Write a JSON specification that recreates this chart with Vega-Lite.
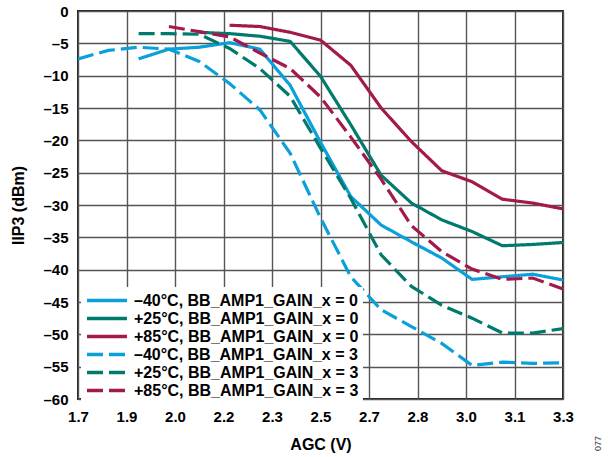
{
  "$schema": "https://vega.github.io/schema/vega-lite/v6.json",
  "autosize": {"type": "none"},
  "padding": {"left": 78, "top": 11, "right": 45, "bottom": 58},
  "width": 485,
  "height": 388,
  "title": {"text": "077", "orient": "bottom", "anchor": "end", "fontSize": 9, "fontWeight": "normal", "font": "Liberation Sans", "color": "#333", "angle": -90, "offset": 10, "dx": 26, "dy": 21},
  "config": {
    "font": "Liberation Sans",
    "view": {"stroke": "#222", "strokeWidth": 2},
    "axis": {"labelFont": "Liberation Sans", "labelFontWeight": "bold", "labelFontSize": 15, "labelColor": "#000", "titleFont": "Liberation Sans", "titleFontWeight": "bold", "titleFontSize": 16, "titleColor": "#000", "gridColor": "#555", "gridWidth": 1.4, "gridOpacity": 1, "ticks": false, "domain": false}
  },
  "data": {"values": [
    {"series": "–40°C, BB_AMP1_GAIN_x = 0", "agc": 1.9, "iip3": -7.4},
    {"series": "–40°C, BB_AMP1_GAIN_x = 0", "agc": 2.0, "iip3": -5.9},
    {"series": "–40°C, BB_AMP1_GAIN_x = 0", "agc": 2.1, "iip3": -5.6},
    {"series": "–40°C, BB_AMP1_GAIN_x = 0", "agc": 2.2, "iip3": -4.9},
    {"series": "–40°C, BB_AMP1_GAIN_x = 0", "agc": 2.3, "iip3": -5.9},
    {"series": "–40°C, BB_AMP1_GAIN_x = 0", "agc": 2.4, "iip3": -11.5},
    {"series": "–40°C, BB_AMP1_GAIN_x = 0", "agc": 2.5, "iip3": -20.3},
    {"series": "–40°C, BB_AMP1_GAIN_x = 0", "agc": 2.6, "iip3": -28.7},
    {"series": "–40°C, BB_AMP1_GAIN_x = 0", "agc": 2.7, "iip3": -33.1},
    {"series": "–40°C, BB_AMP1_GAIN_x = 0", "agc": 2.8, "iip3": -35.7},
    {"series": "–40°C, BB_AMP1_GAIN_x = 0", "agc": 2.9, "iip3": -38.2},
    {"series": "–40°C, BB_AMP1_GAIN_x = 0", "agc": 3.0, "iip3": -41.5},
    {"series": "–40°C, BB_AMP1_GAIN_x = 0", "agc": 3.1, "iip3": -41.1},
    {"series": "–40°C, BB_AMP1_GAIN_x = 0", "agc": 3.2, "iip3": -40.7},
    {"series": "–40°C, BB_AMP1_GAIN_x = 0", "agc": 3.3, "iip3": -41.6},

    {"series": "+25°C, BB_AMP1_GAIN_x = 0", "agc": 2.1, "iip3": -3.3},
    {"series": "+25°C, BB_AMP1_GAIN_x = 0", "agc": 2.2, "iip3": -3.5},
    {"series": "+25°C, BB_AMP1_GAIN_x = 0", "agc": 2.3, "iip3": -3.9},
    {"series": "+25°C, BB_AMP1_GAIN_x = 0", "agc": 2.4, "iip3": -4.7},
    {"series": "+25°C, BB_AMP1_GAIN_x = 0", "agc": 2.5, "iip3": -10.1},
    {"series": "+25°C, BB_AMP1_GAIN_x = 0", "agc": 2.6, "iip3": -17.6},
    {"series": "+25°C, BB_AMP1_GAIN_x = 0", "agc": 2.7, "iip3": -25.4},
    {"series": "+25°C, BB_AMP1_GAIN_x = 0", "agc": 2.8, "iip3": -29.7},
    {"series": "+25°C, BB_AMP1_GAIN_x = 0", "agc": 2.9, "iip3": -32.3},
    {"series": "+25°C, BB_AMP1_GAIN_x = 0", "agc": 3.0, "iip3": -34.1},
    {"series": "+25°C, BB_AMP1_GAIN_x = 0", "agc": 3.1, "iip3": -36.3},
    {"series": "+25°C, BB_AMP1_GAIN_x = 0", "agc": 3.2, "iip3": -36.1},
    {"series": "+25°C, BB_AMP1_GAIN_x = 0", "agc": 3.3, "iip3": -35.8},

    {"series": "+85°C, BB_AMP1_GAIN_x = 0", "agc": 2.2, "iip3": -2.2},
    {"series": "+85°C, BB_AMP1_GAIN_x = 0", "agc": 2.3, "iip3": -2.4},
    {"series": "+85°C, BB_AMP1_GAIN_x = 0", "agc": 2.4, "iip3": -3.3},
    {"series": "+85°C, BB_AMP1_GAIN_x = 0", "agc": 2.5, "iip3": -4.5},
    {"series": "+85°C, BB_AMP1_GAIN_x = 0", "agc": 2.6, "iip3": -8.4},
    {"series": "+85°C, BB_AMP1_GAIN_x = 0", "agc": 2.7, "iip3": -15.0},
    {"series": "+85°C, BB_AMP1_GAIN_x = 0", "agc": 2.8, "iip3": -20.2},
    {"series": "+85°C, BB_AMP1_GAIN_x = 0", "agc": 2.9, "iip3": -24.7},
    {"series": "+85°C, BB_AMP1_GAIN_x = 0", "agc": 3.0, "iip3": -26.4},
    {"series": "+85°C, BB_AMP1_GAIN_x = 0", "agc": 3.1, "iip3": -29.1},
    {"series": "+85°C, BB_AMP1_GAIN_x = 0", "agc": 3.2, "iip3": -29.7},
    {"series": "+85°C, BB_AMP1_GAIN_x = 0", "agc": 3.3, "iip3": -30.6},

    {"series": "–40°C, BB_AMP1_GAIN_x = 3", "agc": 1.7, "iip3": -7.4},
    {"series": "–40°C, BB_AMP1_GAIN_x = 3", "agc": 1.8, "iip3": -6.1},
    {"series": "–40°C, BB_AMP1_GAIN_x = 3", "agc": 1.9, "iip3": -5.6},
    {"series": "–40°C, BB_AMP1_GAIN_x = 3", "agc": 2.0, "iip3": -5.9},
    {"series": "–40°C, BB_AMP1_GAIN_x = 3", "agc": 2.1, "iip3": -7.8},
    {"series": "–40°C, BB_AMP1_GAIN_x = 3", "agc": 2.2, "iip3": -11.2},
    {"series": "–40°C, BB_AMP1_GAIN_x = 3", "agc": 2.3, "iip3": -15.3},
    {"series": "–40°C, BB_AMP1_GAIN_x = 3", "agc": 2.4, "iip3": -22.0},
    {"series": "–40°C, BB_AMP1_GAIN_x = 3", "agc": 2.5, "iip3": -32.0},
    {"series": "–40°C, BB_AMP1_GAIN_x = 3", "agc": 2.6, "iip3": -41.1},
    {"series": "–40°C, BB_AMP1_GAIN_x = 3", "agc": 2.7, "iip3": -46.2},
    {"series": "–40°C, BB_AMP1_GAIN_x = 3", "agc": 2.8, "iip3": -48.8},
    {"series": "–40°C, BB_AMP1_GAIN_x = 3", "agc": 2.9, "iip3": -51.4},
    {"series": "–40°C, BB_AMP1_GAIN_x = 3", "agc": 3.0, "iip3": -54.8},
    {"series": "–40°C, BB_AMP1_GAIN_x = 3", "agc": 3.1, "iip3": -54.3},
    {"series": "–40°C, BB_AMP1_GAIN_x = 3", "agc": 3.2, "iip3": -54.5},
    {"series": "–40°C, BB_AMP1_GAIN_x = 3", "agc": 3.3, "iip3": -54.4},

    {"series": "+25°C, BB_AMP1_GAIN_x = 3", "agc": 1.9, "iip3": -3.5},
    {"series": "+25°C, BB_AMP1_GAIN_x = 3", "agc": 2.0, "iip3": -3.5},
    {"series": "+25°C, BB_AMP1_GAIN_x = 3", "agc": 2.1, "iip3": -3.6},
    {"series": "+25°C, BB_AMP1_GAIN_x = 3", "agc": 2.2, "iip3": -5.8},
    {"series": "+25°C, BB_AMP1_GAIN_x = 3", "agc": 2.3, "iip3": -8.9},
    {"series": "+25°C, BB_AMP1_GAIN_x = 3", "agc": 2.4, "iip3": -13.2},
    {"series": "+25°C, BB_AMP1_GAIN_x = 3", "agc": 2.5, "iip3": -21.2},
    {"series": "+25°C, BB_AMP1_GAIN_x = 3", "agc": 2.6, "iip3": -29.0},
    {"series": "+25°C, BB_AMP1_GAIN_x = 3", "agc": 2.7, "iip3": -37.7},
    {"series": "+25°C, BB_AMP1_GAIN_x = 3", "agc": 2.8, "iip3": -42.6},
    {"series": "+25°C, BB_AMP1_GAIN_x = 3", "agc": 2.9, "iip3": -45.5},
    {"series": "+25°C, BB_AMP1_GAIN_x = 3", "agc": 3.0, "iip3": -47.5},
    {"series": "+25°C, BB_AMP1_GAIN_x = 3", "agc": 3.1, "iip3": -49.8},
    {"series": "+25°C, BB_AMP1_GAIN_x = 3", "agc": 3.2, "iip3": -49.8},
    {"series": "+25°C, BB_AMP1_GAIN_x = 3", "agc": 3.3, "iip3": -49.1},

    {"series": "+85°C, BB_AMP1_GAIN_x = 3", "agc": 2.0, "iip3": -2.4},
    {"series": "+85°C, BB_AMP1_GAIN_x = 3", "agc": 2.1, "iip3": -3.2},
    {"series": "+85°C, BB_AMP1_GAIN_x = 3", "agc": 2.2, "iip3": -4.0},
    {"series": "+85°C, BB_AMP1_GAIN_x = 3", "agc": 2.3, "iip3": -6.5},
    {"series": "+85°C, BB_AMP1_GAIN_x = 3", "agc": 2.4, "iip3": -8.9},
    {"series": "+85°C, BB_AMP1_GAIN_x = 3", "agc": 2.5, "iip3": -13.3},
    {"series": "+85°C, BB_AMP1_GAIN_x = 3", "agc": 2.6, "iip3": -19.5},
    {"series": "+85°C, BB_AMP1_GAIN_x = 3", "agc": 2.7, "iip3": -26.0},
    {"series": "+85°C, BB_AMP1_GAIN_x = 3", "agc": 2.8, "iip3": -33.2},
    {"series": "+85°C, BB_AMP1_GAIN_x = 3", "agc": 2.9, "iip3": -37.2},
    {"series": "+85°C, BB_AMP1_GAIN_x = 3", "agc": 3.0, "iip3": -39.9},
    {"series": "+85°C, BB_AMP1_GAIN_x = 3", "agc": 3.1, "iip3": -41.5},
    {"series": "+85°C, BB_AMP1_GAIN_x = 3", "agc": 3.2, "iip3": -41.3},
    {"series": "+85°C, BB_AMP1_GAIN_x = 3", "agc": 3.3, "iip3": -43.0}
  ]},
  "mark": {"type": "line", "strokeWidth": 3.2, "clip": true},
  "encoding": {
    "x": {"field": "agc", "type": "quantitative", "title": "AGC (V)",
      "scale": {"domain": [1.7, 3.3], "nice": false, "zero": false},
      "axis": {"values": [1.7, 1.86, 2.02, 2.18, 2.34, 2.5, 2.66, 2.82, 2.98, 3.14, 3.3], "format": ".1f", "labelPadding": 10, "titlePadding": 12, "labelFlush": false}},
    "y": {"field": "iip3", "type": "quantitative", "title": "IIP3 (dBm)",
      "scale": {"domain": [-60, 0], "nice": false},
      "axis": {"values": [-60, -55, -50, -45, -40, -35, -30, -25, -20, -15, -10, -5, 0], "labelExpr": "datum.value < 0 ? '–' + abs(datum.value) : '0'", "labelPadding": 10, "titlePadding": 16, "labelFlush": false}},
    "color": {"field": "series", "type": "nominal",
      "scale": {"domain": ["–40°C, BB_AMP1_GAIN_x = 0", "+25°C, BB_AMP1_GAIN_x = 0", "+85°C, BB_AMP1_GAIN_x = 0", "–40°C, BB_AMP1_GAIN_x = 3", "+25°C, BB_AMP1_GAIN_x = 3", "+85°C, BB_AMP1_GAIN_x = 3"],
        "range": ["#0AA0DA", "#007A6C", "#A3194B", "#0AA0DA", "#007A6C", "#A3194B"]},
      "legend": {"title": null, "orient": "none", "legendX": 3, "legendY": 276, "fillColor": "#ffffff", "padding": 4, "symbolType": "M-1,0H4.33", "symbolSize": 225, "symbolStrokeWidth": 3.5, "labelFontSize": 16, "labelFontWeight": "bold", "labelFont": "Liberation Sans", "labelColor": "#000", "labelOffset": 30, "labelLimit": 400, "rowPadding": -0.6, "symbolOpacity": 1}},
    "strokeDash": {"field": "series", "type": "nominal",
      "scale": {"domain": ["–40°C, BB_AMP1_GAIN_x = 0", "+25°C, BB_AMP1_GAIN_x = 0", "+85°C, BB_AMP1_GAIN_x = 0", "–40°C, BB_AMP1_GAIN_x = 3", "+25°C, BB_AMP1_GAIN_x = 3", "+85°C, BB_AMP1_GAIN_x = 3"],
        "range": [[1, 0], [1, 0], [1, 0], [16, 6], [16, 6], [16, 6]]},
      "legend": {"title": null, "orient": "none", "legendX": 3, "legendY": 276, "fillColor": "#ffffff", "padding": 4, "symbolType": "M-1,0H4.33", "symbolSize": 225, "symbolStrokeWidth": 3.5, "labelFontSize": 16, "labelFontWeight": "bold", "labelFont": "Liberation Sans", "labelColor": "#000", "labelOffset": 30, "labelLimit": 400, "rowPadding": -0.6, "symbolOpacity": 1}}
  }
}
